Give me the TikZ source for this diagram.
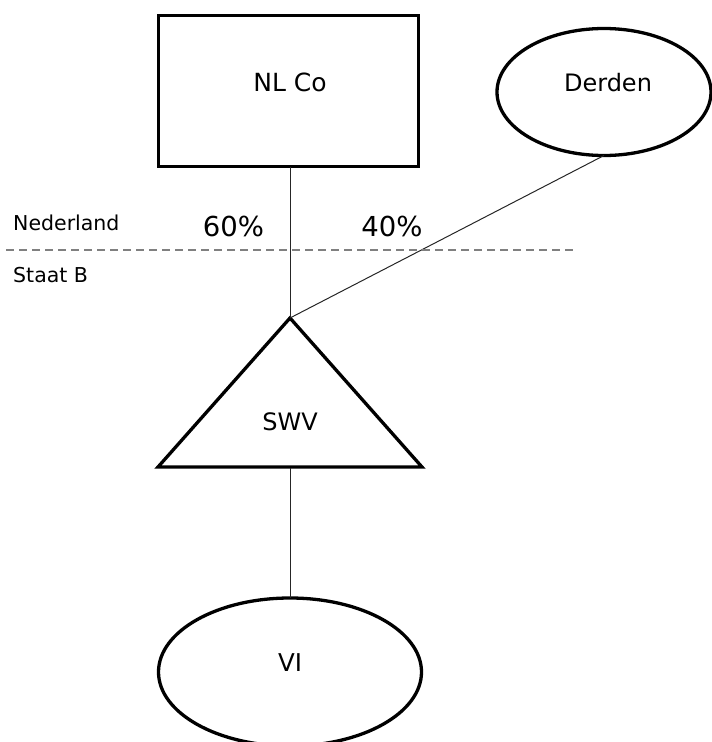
\documentclass[tikz,border=0pt]{standalone}
\usepackage{fontspec}
\setmainfont{DejaVu Sans}
\usetikzlibrary{shapes.geometric}
\begin{document}
\begin{tikzpicture}[x=1pt,y=-1pt,
  thick3/.style={line width=3.3pt},
  thin1/.style={line width=1pt,color=black!85},
  lbl/.style={inner sep=0pt,anchor=base,font=\fontsize{24}{28}\selectfont},
  pct/.style={inner sep=0pt,anchor=base,font=\fontsize{27.5}{32}\selectfont},
  side/.style={inner sep=0pt,anchor=base west,font=\fontsize{20.5}{24}\selectfont},
  ell/.style={ellipse,draw,thick3,inner sep=0pt,outer sep=0pt}]
\useasboundingbox (0,0) rectangle (712,742);
% NL Co box
\node[draw,thick3,rectangle,inner sep=0pt,outer sep=0pt,minimum width=260pt,minimum height=151pt] (nlco) at (288.5,91) {};
\node[lbl,font=\fontsize{25}{29}\selectfont] (nlcot) at (290,91) {NL Co};
% Derden
\node[ell,minimum width=214pt,minimum height=127pt] (derden) at (604,92) {};
\node[lbl] (derdent) at (608,91) {Derden};
% triangle SWV
\coordinate (apex) at (290,318);
\coordinate (bl) at (158,467);
\coordinate (br) at (422,467);
\coordinate (bmid) at (290,468);
\draw[thick3,line join=miter] (apex) -- (br) -- (bl) -- cycle;
\node[lbl] (swv) at (290,430) {SWV};
% VI
\node[ell,minimum width=263pt,minimum height=148pt] (vi) at (290,672) {};
\node[lbl,font=\fontsize{24.5}{28}\selectfont] (vit) at (290,671) {VI};
% connectors
\draw[thin1] (nlco.south -| apex) -- (apex);
\path (derden.south) coordinate (dtail);
\draw[thin1] (dtail) -- (apex);
\draw[thin1] (bmid) -- (vi.north);
% border line
\coordinate (dl) at (6,250);
\coordinate (dr) at (573,250);
\draw[line width=1.5pt,color=black!50,dash pattern=on 8pt off 5pt] (dl) -- (dr);
% labels
\node[side] (ned) at (13,230) {Nederland};
\node[side] (staat) at (13,282) {Staat B};
\node[pct] (p60) at (233.5,236) {60\%};
\node[pct] (p40) at (392,236) {40\%};
\end{tikzpicture}
\end{document}
